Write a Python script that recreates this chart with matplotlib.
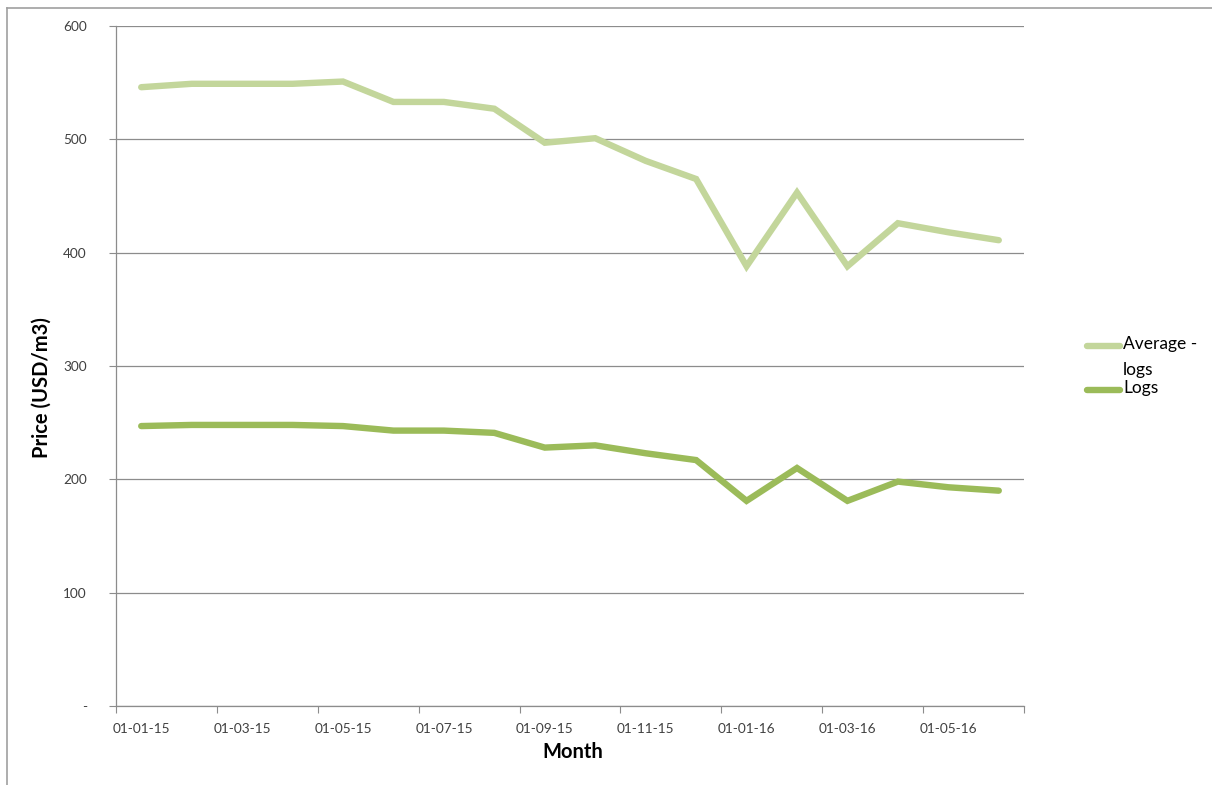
import matplotlib
matplotlib.use("Agg")
import matplotlib.pyplot as plt
from matplotlib.lines import Line2D
import numpy as np

plt.rcParams['font.family'] = ['Lato', 'DejaVu Sans']

# ---- data ----
months = ["01-15", "02-15", "03-15", "04-15", "05-15", "06-15", "07-15", "08-15", "09-15",
          "10-15", "11-15", "12-15", "01-16", "02-16", "03-16", "04-16", "05-16", "06-16"]
average_logs = [546, 549, 549, 549, 551, 533, 533, 527, 497, 501, 481, 465, 388, 453, 388, 426, 418, 411]
logs = [247, 248, 248, 248, 247, 243, 243, 241, 228, 230, 223, 217, 181, 210, 181, 198, 193, 190]
x_tick_labels = ["01-01-15", "01-03-15", "01-05-15", "01-07-15", "01-09-15",
                 "01-11-15", "01-01-16", "01-03-16", "01-05-16"]
y_ticks = [0, 100, 200, 300, 400, 500, 600]
y_tick_labels = ["-", "100", "200", "300", "400", "500", "600"]
series_labels = ["Average -\nlogs", "Logs"]

light = "#C3D69B"
dark = "#9BBB59"
grid_c = "#8C8C8C"
txt_c = "#404040"

W, H = 1212, 785
fig = plt.figure(figsize=(W / 100, H / 100), dpi=100)
ax = fig.add_axes([116 / W, 1 - 706 / H, (1024 - 116) / W, (706 - 26) / H])

x = np.arange(len(months)) + 0.5
ax.plot(x, average_logs, color=light, lw=4.6, solid_capstyle='round', solid_joinstyle='miter', zorder=3)
ax.plot(x, logs, color=dark, lw=4.6, solid_capstyle='round', solid_joinstyle='miter', zorder=3)

ax.set_xlim(0, len(months))
ax.set_ylim(0, 600)

# y axis
ax.set_yticks(y_ticks)
ax.set_yticklabels(y_tick_labels, fontsize=9.8, color=txt_c)
ax.tick_params(axis='y', length=5, width=0.8, color=grid_c, pad=16)
ax.grid(axis='y', color=grid_c, lw=0.9, zorder=1)

# x axis: tick marks at even months, labels centred on half-month
ax.set_xticks(np.arange(0, len(months) + 1, 2))
ax.set_xticklabels([])
ax.tick_params(axis='x', which='major', length=5, width=0.8, color=grid_c)
ax.set_xticks(np.arange(0, len(months), 2) + 0.5, minor=True)
ax.set_xticklabels(x_tick_labels, minor=True, fontsize=9.8, color=txt_c)
ax.tick_params(axis='x', which='minor', length=0, pad=12)

for s in ['top', 'right']:
    ax.spines[s].set_visible(False)
for s in ['left', 'bottom']:
    ax.spines[s].set_color(grid_c)
    ax.spines[s].set_linewidth(0.9)

fig.text(573 / W, 1 - 752 / H, "Month", ha='center', va='center', fontsize=14.5, fontweight='bold', color='black')
fig.text(42 / W, 1 - 388 / H, "Price (USD/m3)", ha='center', va='center', rotation=90,
         fontsize=14.5, fontweight='bold', color='black')

# legend (manual, Excel-style)
for (lab, col, yy) in [(series_labels[0], light, 346), (series_labels[1], dark, 390)]:
    fig.add_artist(Line2D([1087 / W, 1120 / W], [1 - yy / H, 1 - yy / H], color=col, lw=4.6,
                          solid_capstyle='round', transform=fig.transFigure))
    fig.text(1123 / W, 1 - (yy - 10) / H, lab, ha='left', va='top', fontsize=12.5,
             color='black', linespacing=1.75)

# chart frame (left & top)
fig.add_artist(Line2D([7 / W, 7 / W], [0, 1 - 8 / H], color="#A0A0A0", lw=1.2, transform=fig.transFigure))
fig.add_artist(Line2D([7 / W, 1], [1 - 8 / H, 1 - 8 / H], color="#A0A0A0", lw=1.2, transform=fig.transFigure))

fig.savefig("out.png", dpi=100, facecolor='white')
